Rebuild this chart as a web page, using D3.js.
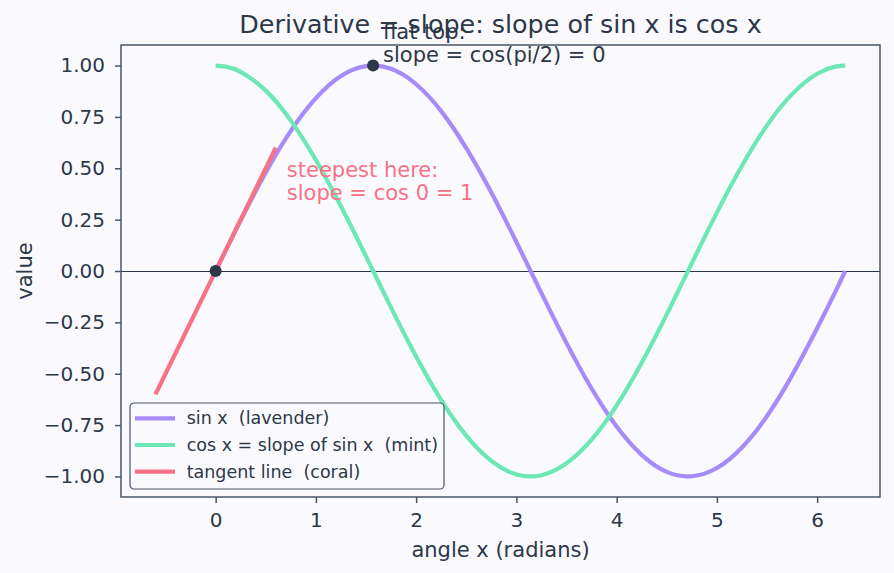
<!DOCTYPE html>
<html>
<head>
<meta charset="utf-8">
<script src="https://cdn.jsdelivr.net/npm/d3@7"></script>
<style>
  body { margin: 0; background: #fafafe; }
  text { font-family: "DejaVu Sans", sans-serif; white-space: pre; }
</style>
</head>
<body>
<script>
// values
const xs = [0, 0.1, 0.25, 0.5, 0.75, 1, 1.25, 1.5, 1.75, 2, 2.25, 2.5, 2.75, 3, 3.25,
            3.5, 3.75, 4, 4.25, 4.5, 4.75, 5, 5.25, 5.5, 5.75, 6, 6.18, 6.28];
const sinVals = [0, 0.100, 0.247, 0.479, 0.682, 0.841, 0.949, 0.997, 0.984, 0.909, 0.778, 0.598, 0.382, 0.141,
                 -0.108, -0.351, -0.572, -0.757, -0.895, -0.978, -0.999, -0.959, -0.859, -0.706, -0.508, -0.279,
                 -0.103, 0];
const cosVals = [1.00, 0.995, 0.969, 0.878, 0.732, 0.540, 0.315, 0.071, -0.178, -0.416, -0.628, -0.801, -0.924, -0.990,
                 -0.994, -0.936, -0.821, -0.654, -0.446, -0.211, 0.038, 0.284, 0.512, 0.709, 0.861, 0.960,
                 0.995, 1.00];
const tangentX = [-0.6, 0.6];
const tangentY = [-0.6, 0.6];
const markedPoints = [[0, 0], [1.5708, 1.0]];
const xTicks = [0, 1, 2, 3, 4, 5, 6];
const yTicks = [-1, -0.75, -0.5, -0.25, 0, 0.25, 0.5, 0.75, 1];
const legendLabels = ["sin x  (lavender)", "cos x = slope of sin x  (mint)", "tangent line  (coral)"];

const W = 894, H = 573;
const m = { left: 121, right: 14, top: 45, bottom: 76 };
const ink = "#2d3748", spine = "#4a5568";
const lavender = "#a78bfa", mint = "#6ee7b7", coral = "#f87185";

const svg = d3.select("body").append("svg")
    .attr("width", W)
    .attr("height", H);

svg.append("rect")
    .attr("width", W)
    .attr("height", H)
    .attr("fill", "#fafafe");

const x = d3.scaleLinear().domain([-0.944, 6.627]).range([m.left, W - m.right]);
const y = d3.scaleLinear().domain([-1.1, 1.1]).range([H - m.bottom, m.top]);

// zero line
svg.append("line")
    .attr("x1", m.left)
    .attr("x2", W - m.right)
    .attr("y1", y(0) + 0.5)
    .attr("y2", y(0) + 0.5)
    .attr("stroke", ink)
    .attr("stroke-width", 1);

const line = d3.line()
    .x(d => x(d[0]))
    .y(d => y(d[1]))
    .curve(d3.curveNatural);

svg.append("path")
    .datum(xs.map((v, i) => [v, sinVals[i]]))
    .attr("d", line)
    .attr("fill", "none")
    .attr("stroke", lavender)
    .attr("stroke-width", 4.2);

svg.append("path")
    .datum(xs.map((v, i) => [v, cosVals[i]]))
    .attr("d", line)
    .attr("fill", "none")
    .attr("stroke", mint)
    .attr("stroke-width", 4.2);

svg.append("path")
    .datum(tangentX.map((v, i) => [v, tangentY[i]]))
    .attr("d", d3.line().x(d => x(d[0])).y(d => y(d[1])))
    .attr("fill", "none")
    .attr("stroke", coral)
    .attr("stroke-width", 4.2);

svg.selectAll("circle.pt")
    .data(markedPoints)
    .join("circle")
    .attr("class", "pt")
    .attr("cx", d => x(d[0]))
    .attr("cy", d => y(d[1]))
    .attr("r", 6)
    .attr("fill", ink);

// annotations
const note1 = svg.append("text")
    .attr("x", x(0.71))
    .attr("y", y(0.456))
    .attr("fill", coral)
    .attr("font-size", 21);
note1.append("tspan").text("steepest here:");
note1.append("tspan").attr("x", x(0.71)).attr("dy", 23).text("slope = cos 0 = 1");

const note2 = svg.append("text")
    .attr("x", x(1.67))
    .attr("y", y(1.129))
    .attr("fill", ink)
    .attr("font-size", 21);
note2.append("tspan").text("flat top:");
note2.append("tspan").attr("x", x(1.67)).attr("dy", 22.5).text("slope = cos(pi/2) = 0");

// axes
const xAxis = svg.append("g")
    .attr("transform", `translate(0,${H - m.bottom})`)
    .call(d3.axisBottom(x).tickValues(xTicks).tickFormat(d3.format("d")).tickSizeOuter(0).tickSize(6).tickPadding(10));

const yAxis = svg.append("g")
    .attr("transform", `translate(${m.left},0)`)
    .call(d3.axisLeft(y).tickValues(yTicks).tickFormat(d3.format(".2f")).tickSizeOuter(0).tickSize(6).tickPadding(10));

[xAxis, yAxis].forEach(g => {
    g.select(".domain").remove();
    g.selectAll(".tick line").attr("stroke", spine).attr("stroke-width", 1.5);
    g.selectAll(".tick text")
        .attr("fill", ink)
        .attr("font-size", 20)
        .attr("font-family", "DejaVu Sans, sans-serif");
});

svg.append("rect")
    .attr("x", m.left)
    .attr("y", m.top)
    .attr("width", W - m.left - m.right)
    .attr("height", H - m.top - m.bottom)
    .attr("fill", "none")
    .attr("stroke", spine)
    .attr("stroke-width", 1.5);

// title and labels
svg.append("text")
    .attr("x", (m.left + W - m.right) / 2)
    .attr("y", 33)
    .attr("text-anchor", "middle")
    .attr("fill", ink)
    .attr("font-size", 25.4)
    .text("Derivative = slope: slope of sin x is cos x");

svg.append("text")
    .attr("x", (m.left + W - m.right) / 2)
    .attr("y", 557)
    .attr("text-anchor", "middle")
    .attr("fill", ink)
    .attr("font-size", 21)
    .text("angle x (radians)");

svg.append("text")
    .attr("transform", `translate(32,${(m.top + H - m.bottom) / 2}) rotate(-90)`)
    .attr("text-anchor", "middle")
    .attr("fill", ink)
    .attr("font-size", 21)
    .text("value");

// legend
const legend = svg.append("g").attr("transform", "translate(130,403)");
legend.append("rect")
    .attr("width", 314)
    .attr("height", 86)
    .attr("rx", 4)
    .attr("fill", "#fafafe")
    .attr("fill-opacity", 0.8)
    .attr("stroke", spine)
    .attr("stroke-width", 1.2);

const rows = legend.selectAll("g.row")
    .data(legendLabels)
    .join("g")
    .attr("class", "row")
    .attr("transform", (d, i) => `translate(0,${15.3 + i * 26.7})`);

rows.append("line")
    .attr("x1", 5)
    .attr("x2", 45)
    .attr("stroke", (d, i) => [lavender, mint, coral][i])
    .attr("stroke-width", 4.2);

rows.append("text")
    .attr("x", 56.7)
    .attr("dy", "0.35em")
    .attr("fill", ink)
    .attr("font-size", 17.5)
    .text(d => d);
</script>
</body>
</html>
